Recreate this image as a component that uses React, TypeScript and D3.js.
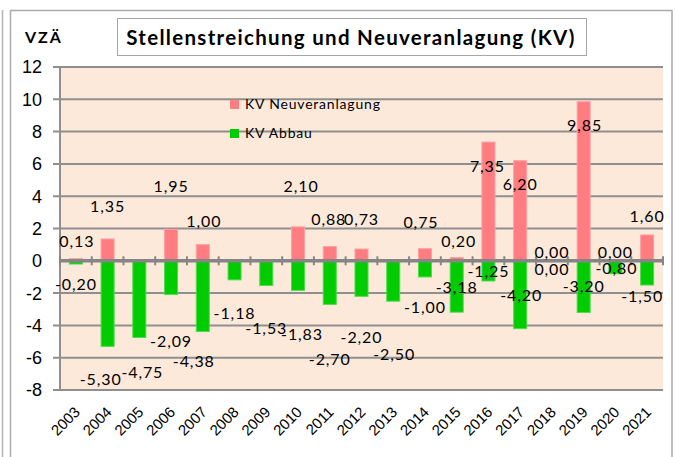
import React, { useEffect, useRef } from "react";
import * as d3 from "d3";

const years = ["2003", "2004", "2005", "2006", "2007", "2008", "2009", "2010", "2011", "2012",
    "2013", "2014", "2015", "2016", "2017", "2018", "2019", "2020", "2021"];

// KV Neuveranlagung (null = no value in that year)
const neuveranlagung = [0.13, 1.35, null, 1.95, 1.00, null, null, 2.10, 0.88, 0.73,
    null, 0.75, 0.20, 7.35, 6.20, 0.00, 9.85, 0.00, 1.60];

// KV Abbau
const abbau = [-0.20, -5.30, -4.75, -2.09, -4.38, -1.18, -1.53, -1.83, -2.70, -2.20,
    -2.50, -1.00, -3.18, -1.25, -4.20, 0.00, -3.20, -0.80, -1.50];

const yTicks = [-8, -6, -4, -2, 0, 2, 4, 6, 8, 10, 12];

const seriesNames = ["KV Neuveranlagung", "KV Abbau"];

// the data labels were dragged around by hand in the original, these are the nudges (px)
const neuLabelDx = [1, 0, 0, 0, 1, 0, 0, 3, -1, 0, 0, -4, 2, -1, 0, 0, 1, 0, 0];
const neuLabelDy = [-12, -27, 0, -37, -18, 0, 0, -35, -22, -24, 0, -21, -11, 30, 29, -3, 29, -3, -13];
const abbLabelDx = [0, -7, 3, 0, -9, 0, 0, 4, 0, 0, 1, 0, 0, 0, 1, 0, 0, 1, -5];
const abbLabelDy = [26, 39, 40, 52, 35, 39, 48, 50, 61, 47, 59, 36, -19, -4, -28, 14, -20, 0, 17];

const PINK = "#ff7c80";
const GREEN = "#00cc00";
const GRID = "#8f8f8f";

const de = d3.formatLocale({decimal: ",", thousands: ".", grouping: [3], currency: ["", " €"], minus: "-"});
const fmt = de.format(".2f");

const labelFont = "Lato, 'Open Sans', sans-serif";
const axisFont = "'Liberation Sans', Arial, sans-serif";

function App() {
    const ref = useRef<SVGSVGElement>(null);

    useEffect(() => {
        const width = 676, height = 457;
        const plot = {left: 60, right: 663, top: 67, bottom: 390};

        const svg = d3.select(ref.current);
        svg.selectAll("*").remove();
        svg.attr("width", width).attr("height", height);

        // chart frame
        svg.append("rect")
            .attr("x", 10.5).attr("y", 10.5)
            .attr("width", 661.5).attr("height", 470)
            .attr("fill", "#fff")
            .attr("stroke", "#ababab")
            .attr("stroke-width", 1.5);
        svg.append("line")
            .attr("x1", 2.5).attr("x2", 2.5).attr("y1", 10).attr("y2", height)
            .attr("stroke", "#b5b5b5").attr("stroke-width", 1.5);

        const x = d3.scaleBand()
            .domain(years)
            .range([plot.left, plot.right])
            .paddingInner(0.59)
            .paddingOuter(0.295);

        const y = d3.scaleLinear()
            .domain([-8, 12])
            .range([plot.bottom, plot.top]);

        svg.append("rect")
            .attr("x", plot.left).attr("y", plot.top)
            .attr("width", plot.right - plot.left)
            .attr("height", plot.bottom - plot.top)
            .attr("fill", "#fce9da");

        //gridlines with little ticks on the left
        svg.append("g")
            .selectAll("line")
            .data(yTicks.filter(t => t !== 0))
            .enter()
            .append("line")
            .attr("x1", plot.left - 7).attr("x2", plot.right)
            .attr("y1", d => y(d)).attr("y2", d => y(d))
            .attr("stroke", GRID).attr("stroke-width", 2);

        svg.append("line")
            .attr("x1", plot.left).attr("x2", plot.left)
            .attr("y1", plot.top).attr("y2", plot.bottom + 1)
            .attr("stroke", GRID).attr("stroke-width", 2);

        svg.append("g")
            .selectAll("text")
            .data(yTicks)
            .enter()
            .append("text")
            .attr("x", plot.left - 18)
            .attr("y", d => y(d))
            .attr("dy", "0.36em")
            .attr("text-anchor", "end")
            .style("font-family", axisFont)
            .style("font-size", "18px")
            .text(d => d);

        const data = years.map((yr, i) => ({year: yr, neu: neuveranlagung[i], abb: abbau[i], i}));

        const bars = svg.append("g");
        bars.selectAll(".neu")
            .data(data.filter(d => d.neu !== null && d.neu > 0))
            .enter()
            .append("rect")
            .attr("class", "neu")
            .attr("x", d => x(d.year)!)
            .attr("width", x.bandwidth())
            .attr("y", d => y(d.neu!))
            .attr("height", d => y(0) - y(d.neu!))
            .attr("fill", PINK)
            .attr("stroke", "#ff9fa2").attr("stroke-width", 1);

        bars.selectAll(".abb")
            .data(data.filter(d => d.abb < 0))
            .enter()
            .append("rect")
            .attr("class", "abb")
            .attr("x", d => x(d.year)!)
            .attr("width", x.bandwidth())
            .attr("y", y(0))
            .attr("height", d => y(d.abb) - y(0))
            .attr("fill", GREEN)
            .attr("stroke", "#4cdc4c").attr("stroke-width", 1);

        // zero axis with category ticks
        svg.append("line")
            .attr("x1", plot.left).attr("x2", plot.right)
            .attr("y1", y(0)).attr("y2", y(0))
            .attr("stroke", "#858585").attr("stroke-width", 3.5);
        svg.append("g")
            .selectAll("line")
            .data(d3.range(years.length + 1))
            .enter()
            .append("line")
            .attr("x1", i => plot.left + i * x.step())
            .attr("x2", i => plot.left + i * x.step())
            .attr("y1", y(0) - 4.5).attr("y2", y(0) + 4.5)
            .attr("stroke", "#858585").attr("stroke-width", 2);

        const cx = (yr: string) => x(yr)! + x.bandwidth() / 2;

        //data labels
        svg.append("g")
            .selectAll("text")
            .data(data.filter(d => d.neu !== null))
            .enter()
            .append("text")
            .attr("x", d => cx(d.year) + neuLabelDx[d.i])
            .attr("y", d => y(d.neu!) + neuLabelDy[d.i])
            .attr("text-anchor", "middle")
            .style("font-family", labelFont)
            .style("font-size", "16px")
            .style("letter-spacing", "0.9px")
            .text(d => fmt(d.neu!));

        svg.append("g")
            .selectAll("text")
            .data(data)
            .enter()
            .append("text")
            .attr("x", d => cx(d.year) + abbLabelDx[d.i])
            .attr("y", d => y(d.abb) + abbLabelDy[d.i])
            .attr("text-anchor", "middle")
            .style("font-family", labelFont)
            .style("font-size", "16px")
            .style("letter-spacing", "0.9px")
            .text(d => fmt(d.abb));

        // year labels
        svg.append("g")
            .selectAll("text")
            .data(years)
            .enter()
            .append("text")
            .attr("transform", d => `translate(${cx(d) + 5},${plot.bottom + 23}) rotate(-45)`)
            .attr("text-anchor", "end")
            .style("font-family", axisFont)
            .style("font-size", "15px")
            .text(d => d);

        // legend
        const legend = svg.append("g")
            .selectAll("g")
            .data(seriesNames)
            .enter()
            .append("g")
            .attr("transform", (d, i) => `translate(230,${100 + i * 29})`);
        legend.append("rect")
            .attr("width", 9).attr("height", 9)
            .attr("fill", (d, i) => i === 0 ? PINK : GREEN);
        legend.append("text")
            .attr("x", 15).attr("y", 9)
            .style("font-family", labelFont)
            .style("font-size", "14px")
            .style("letter-spacing", "0.8px")
            .text(d => d);

        // title
        svg.append("rect")
            .attr("x", 117.5).attr("y", 18.5)
            .attr("width", 469).attr("height", 37)
            .attr("fill", "#fff")
            .attr("stroke", "#a6a6a6").attr("stroke-width", 1);
        svg.append("text")
            .attr("x", 351).attr("y", 45)
            .attr("text-anchor", "middle")
            .style("font-family", labelFont)
            .style("font-weight", "bold")
            .style("font-size", "20.5px")
            .style("letter-spacing", "1.3px")
            .text("Stellenstreichung und Neuveranlagung (KV)");

        svg.append("text")
            .attr("x", 25).attr("y", 43)
            .style("font-family", labelFont)
            .style("font-weight", "bold")
            .style("font-size", "16px")
            .style("letter-spacing", "2px")
            .text("VZÄ");
    }, []);

    return <svg ref={ref} style={{position: "absolute", left: 0, top: 0}}></svg>;
}

export default App;
